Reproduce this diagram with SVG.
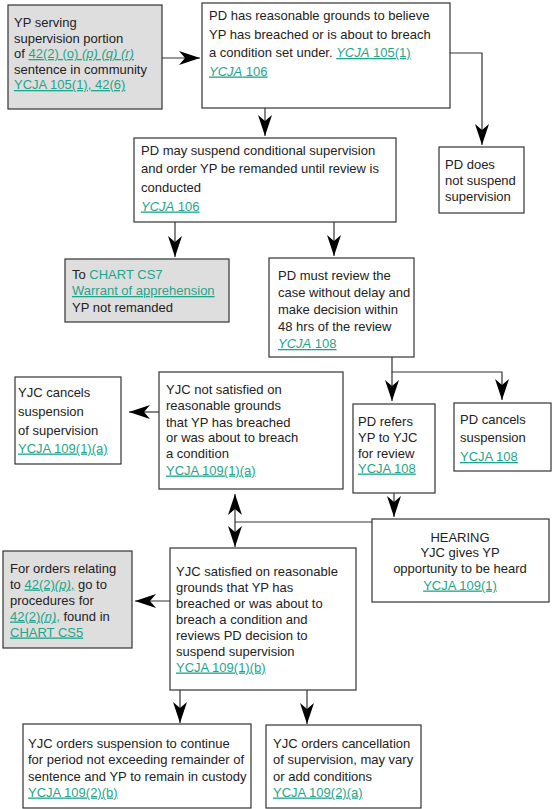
<svg xmlns="http://www.w3.org/2000/svg" width="552" height="809" viewBox="0 0 552 809">
<style>
.box{fill:#fff;stroke:#333;stroke-width:1.2}
.gray{fill:#dedede}
text{font-family:"Liberation Sans",Arial,Helvetica,sans-serif;font-size:13px;fill:#222}
.lk{fill:#1fa58b;text-decoration:underline}
.tl{fill:#1fa58b}
.it{font-style:italic}
.conn{stroke:#333;fill:none;stroke-width:1.2}
</style>
<defs>
<marker id="ah" markerUnits="userSpaceOnUse" markerWidth="22" markerHeight="16" viewBox="0 0 22 16" refX="21" refY="8" orient="auto">
<path d="M0,1 L21,8 L0,15 L6,8 z" fill="#000"/>
</marker>
</defs>
<rect width="552" height="809" fill="#fff"/>

<g id="connectors">
<line class="conn" x1="162" y1="58" x2="200" y2="58" marker-end="url(#ah)"/>
<polyline class="conn" points="450,53 482,53 482,145" marker-end="url(#ah)"/>
<line class="conn" x1="265" y1="108" x2="265" y2="136" marker-end="url(#ah)"/>
<line class="conn" x1="175" y1="222" x2="175" y2="257" marker-end="url(#ah)"/>
<line class="conn" x1="334" y1="222" x2="334" y2="256" marker-end="url(#ah)"/>
<polyline class="conn" points="392,357 392,372 502,372 502,400" marker-end="url(#ah)"/>
<line class="conn" x1="392" y1="372" x2="392" y2="401" marker-end="url(#ah)"/>
<line class="conn" x1="159" y1="412" x2="129" y2="412" marker-end="url(#ah)"/>
<line class="conn" x1="394" y1="493" x2="394" y2="517" marker-end="url(#ah)"/>
<line class="conn" x1="372" y1="522" x2="235" y2="522"/>
<line class="conn" x1="235" y1="522" x2="235" y2="494" marker-end="url(#ah)"/>
<line class="conn" x1="235" y1="522" x2="235" y2="547" marker-end="url(#ah)"/>
<line class="conn" x1="170" y1="601" x2="135" y2="601" marker-end="url(#ah)"/>
<line class="conn" x1="180" y1="690" x2="180" y2="723" marker-end="url(#ah)"/>
<line class="conn" x1="307" y1="690" x2="307" y2="724" marker-end="url(#ah)"/>
</g>

<g id="n1">
<rect class="box gray" x="8" y="5" width="154" height="104"/>
<text x="14" y="27">YP serving</text>
<text x="14" y="43">supervision portion</text>
<text x="14" y="58">of <tspan class="lk">42(2) (o) <tspan class="it">(p) (q) (r)</tspan></tspan></text>
<text x="14" y="74">sentence in community</text>
<text x="14" y="89"><tspan class="lk">YCJA 105(1), 42(6)</tspan></text>
</g>

<g id="n2">
<rect class="box" x="202" y="3" width="248" height="105"/>
<text x="209" y="20">PD has reasonable grounds to believe</text>
<text x="209" y="38.5">YP has breached or is about to breach</text>
<text x="209" y="57">a condition set under. <tspan class="lk"><tspan class="it">YCJA</tspan> 105(1)</tspan></text>
<text x="209" y="75.5"><tspan class="lk"><tspan class="it">YCJA</tspan> 106</tspan></text>
</g>

<g id="n3">
<rect class="box" x="134" y="138" width="262" height="84"/>
<text x="141" y="155">PD may suspend conditional supervision</text>
<text x="141" y="173">and order YP be remanded until review is</text>
<text x="141" y="192">conducted</text>
<text x="141" y="210.5"><tspan class="lk"><tspan class="it">YCJA</tspan> 106</tspan></text>
</g>

<g id="n4">
<rect class="box" x="439" y="147" width="85" height="66"/>
<text x="445" y="169">PD does</text>
<text x="445" y="185">not suspend</text>
<text x="445" y="201">supervision</text>
</g>

<g id="n5">
<rect class="box gray" x="65" y="259" width="164" height="63"/>
<text x="72" y="278.5">To <tspan class="tl">CHART CS7</tspan></text>
<text x="72" y="295"><tspan class="lk">Warrant of apprehension</tspan></text>
<text x="72" y="311.5">YP not remanded</text>
</g>

<g id="n6">
<rect class="box" x="269" y="258" width="145" height="99"/>
<text x="278" y="279.5">PD must review the</text>
<text x="278" y="296.5">case without delay and</text>
<text x="278" y="314">make decision within</text>
<text x="278" y="331">48 hrs of the review</text>
<text x="278" y="348"><tspan class="lk"><tspan class="it">YCJA</tspan> 108</tspan></text>
</g>

<g id="n7">
<rect class="box" x="353" y="404" width="82" height="89"/>
<text x="358" y="425.5">PD refers</text>
<text x="358" y="442">YP to YJC</text>
<text x="358" y="457.5">for review</text>
<text x="358" y="472.5"><tspan class="lk">YCJA 108</tspan></text>
</g>

<g id="n8">
<rect class="box" x="454" y="403" width="97" height="68"/>
<text x="460" y="423.5">PD cancels</text>
<text x="460" y="441.5">suspension</text>
<text x="460" y="461"><tspan class="lk">YCJA 108</tspan></text>
</g>

<g id="n9">
<rect class="box" x="15" y="377" width="106" height="87"/>
<text x="18" y="396.5">YJC cancels</text>
<text x="18" y="415.5">suspension</text>
<text x="18" y="434.5">of supervision</text>
<text x="18" y="452.5"><tspan class="lk">YCJA 109(1)(a)</tspan></text>
</g>

<g id="n10">
<rect class="box" x="159" y="372" width="184" height="117"/>
<text x="166" y="393.5">YJC not satisfied on</text>
<text x="166" y="409.5">reasonable grounds</text>
<text x="166" y="426.5">that YP has breached</text>
<text x="166" y="441.5">or was about to breach</text>
<text x="166" y="457.5">a condition</text>
<text x="166" y="474.5"><tspan class="lk">YCJA 109(1)(a)</tspan></text>
</g>

<g id="n11">
<rect class="box" x="372" y="519" width="177" height="83"/>
<text x="460" y="541.5" text-anchor="middle">HEARING</text>
<text x="460" y="556.5" text-anchor="middle">YJC gives YP</text>
<text x="460" y="572.5" text-anchor="middle">opportunity to be heard</text>
<text x="460" y="589.5" text-anchor="middle"><tspan class="lk">YCJA 109(1)</tspan></text>
</g>

<g id="n12">
<rect class="box" x="170" y="548" width="186" height="142"/>
<text x="176" y="575.5">YJC satisfied on reasonable</text>
<text x="176" y="591.5">grounds that YP has</text>
<text x="176" y="607.5">breached or was about to</text>
<text x="176" y="623.5">breach a condition and</text>
<text x="176" y="639.5">reviews PD decision to</text>
<text x="176" y="655.5">suspend supervision</text>
<text x="176" y="671.5"><tspan class="lk">YCJA 109(1)(b)</tspan></text>
</g>

<g id="n13">
<rect class="box gray" x="3" y="551" width="129" height="97"/>
<text x="10" y="572.5">For orders relating</text>
<text x="10" y="588.5">to <tspan class="lk">42(2)<tspan class="it">(p)</tspan>,</tspan> go to</text>
<text x="10" y="604.5">procedures for</text>
<text x="10" y="620.5"><tspan class="lk">42(2)<tspan class="it">(n)</tspan>,</tspan> found in</text>
<text x="10" y="636.5"><tspan class="lk">CHART CS5</tspan></text>
</g>

<g id="n14">
<rect class="box" x="23" y="724" width="228" height="84"/>
<text x="28" y="747.5">YJC orders suspension to continue</text>
<text x="28" y="763.5">for period not exceeding remainder of</text>
<text x="28" y="780.5">sentence and YP to remain in custody</text>
<text x="28" y="796.5"><tspan class="lk">YCJA 109(2)(b)</tspan></text>
</g>

<g id="n15">
<rect class="box" x="266" y="725" width="155" height="83"/>
<text x="273" y="747.5">YJC orders cancellation</text>
<text x="273" y="763.5">of supervision, may vary</text>
<text x="273" y="780.5">or add conditions</text>
<text x="273" y="796.5"><tspan class="lk">YCJA 109(2)(a)</tspan></text>
</g>
</svg>
